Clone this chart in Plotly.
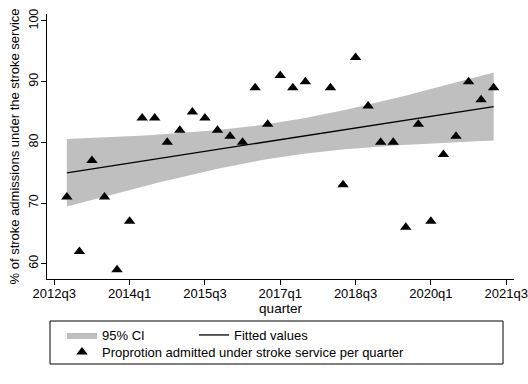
import numpy as np
import plotly.graph_objects as go

# ---- data ----
quarters = ["2012q4", "2013q1", "2013q2", "2013q3", "2013q4", "2014q1", "2014q2", "2014q3",
            "2014q4", "2015q1", "2015q2", "2015q3", "2015q4", "2016q1", "2016q2", "2016q3",
            "2016q4", "2017q1", "2017q2", "2017q3", "2018q1", "2018q2", "2018q3", "2018q4",
            "2019q1", "2019q2", "2019q3", "2019q4", "2020q1", "2020q2", "2020q3", "2020q4",
            "2021q1", "2021q2"]
pct_admitted = [71, 62, 77, 71, 59, 67, 84, 84,
                80, 82, 85, 84, 82, 81, 80, 89,
                83, 91, 89, 90, 89, 73, 94, 86,
                80, 80, 66, 83, 67, 78, 81, 90,
                87, 89]
tick_labels = ["2012q3", "2014q1", "2015q3", "2017q1", "2018q3", "2020q1", "2021q3"]
y_ticks = [60, 70, 80, 90, 100]


def qnum(s):
    y, q = s.split("q")
    return (int(y) - 2012) * 4 + int(q) - 3


x = np.array([qnum(s) for s in quarters], dtype=float)
y = np.array(pct_admitted, dtype=float)

# linear fit with 95% CI of the mean (as in Stata lfitci)
n = len(x)
b1, b0 = np.polyfit(x, y, 1)
resid = y - (b0 + b1 * x)
s = np.sqrt(np.sum(resid ** 2) / (n - 2))
xbar = x.mean()
sxx = np.sum((x - xbar) ** 2)
xs = np.linspace(x.min(), x.max(), 100)
yhat = b0 + b1 * xs
tcrit = 2.0369  # t(0.975, 32)
half = tcrit * s * np.sqrt(1.0 / n + (xs - xbar) ** 2 / sxx)

FONT = "Arial, Liberation Sans, sans-serif"

fig = go.Figure()
fig.add_trace(go.Scatter(x=xs, y=yhat + half, mode="lines", line=dict(width=0),
                         showlegend=False, hoverinfo="skip"))
fig.add_trace(go.Scatter(x=xs, y=yhat - half, mode="lines", line=dict(width=0),
                         fill="tonexty", fillcolor="#bfbfbf", name="95% CI",
                         legend="legend"))
fig.add_trace(go.Scatter(x=xs, y=yhat, mode="lines", line=dict(color="black", width=1.3),
                         name="Fitted values", legend="legend3"))
fig.add_trace(go.Scatter(x=x, y=y, mode="markers",
                         marker=dict(symbol="triangle-up", size=10, color="black"),
                         name="Proprotion admitted under stroke service per quarter",
                         legend="legend2"))

leg_common = dict(orientation="h", xref="container", yref="container",
                  xanchor="left", yanchor="top",
                  font=dict(size=13, family=FONT), bgcolor="rgba(0,0,0,0)",
                  itemclick=False)

fig.update_layout(
    width=528, height=384, autosize=False,
    margin=dict(l=47, r=14, t=14, b=105, autoexpand=False),
    paper_bgcolor="white", plot_bgcolor="white",
    font=dict(family=FONT, size=12, color="black"),
    xaxis=dict(range=[-0.58, 36.62], tickmode="array",
               tickvals=[qnum(t) for t in tick_labels], ticktext=tick_labels,
               showline=True, linecolor="black", linewidth=1, ticks="outside",
               ticklen=5, tickcolor="black", showgrid=False, zeroline=False,
               automargin=False, ticklabelstandoff=-3,
               title=dict(text="quarter", standoff=0, font=dict(size=13.5)),
               tickfont=dict(size=13)),
    yaxis=dict(range=[57.48, 101.15], tickvals=y_ticks, tickangle=-90,
               showline=True, linecolor="black", linewidth=1, ticks="outside",
               ticklen=5, tickcolor="black", showgrid=False, zeroline=False,
               automargin=False, ticklabelstandoff=-2,
               title=dict(text="% of stroke admissions under the stroke service",
                          standoff=4, font=dict(size=13)),
               tickfont=dict(size=12.5)),
    legend=dict(leg_common, x=62 / 528, y=1 - 320 / 384),
    legend3=dict(leg_common, x=194 / 528, y=1 - 320 / 384),
    legend2=dict(leg_common, x=62 / 528, y=1 - 337 / 384),
    shapes=[dict(type="rect", xref="paper", yref="paper",
                 x0=(50 - 47) / 467, x1=(503 - 47) / 467,
                 y0=(279 - 364) / 265, y1=(279 - 321) / 265,
                 line=dict(color="black", width=1), fillcolor="rgba(0,0,0,0)")],
)

fig.write_html("out.html", config={"displayModeBar": False},
               post_script="document.body.style.margin='0';")
